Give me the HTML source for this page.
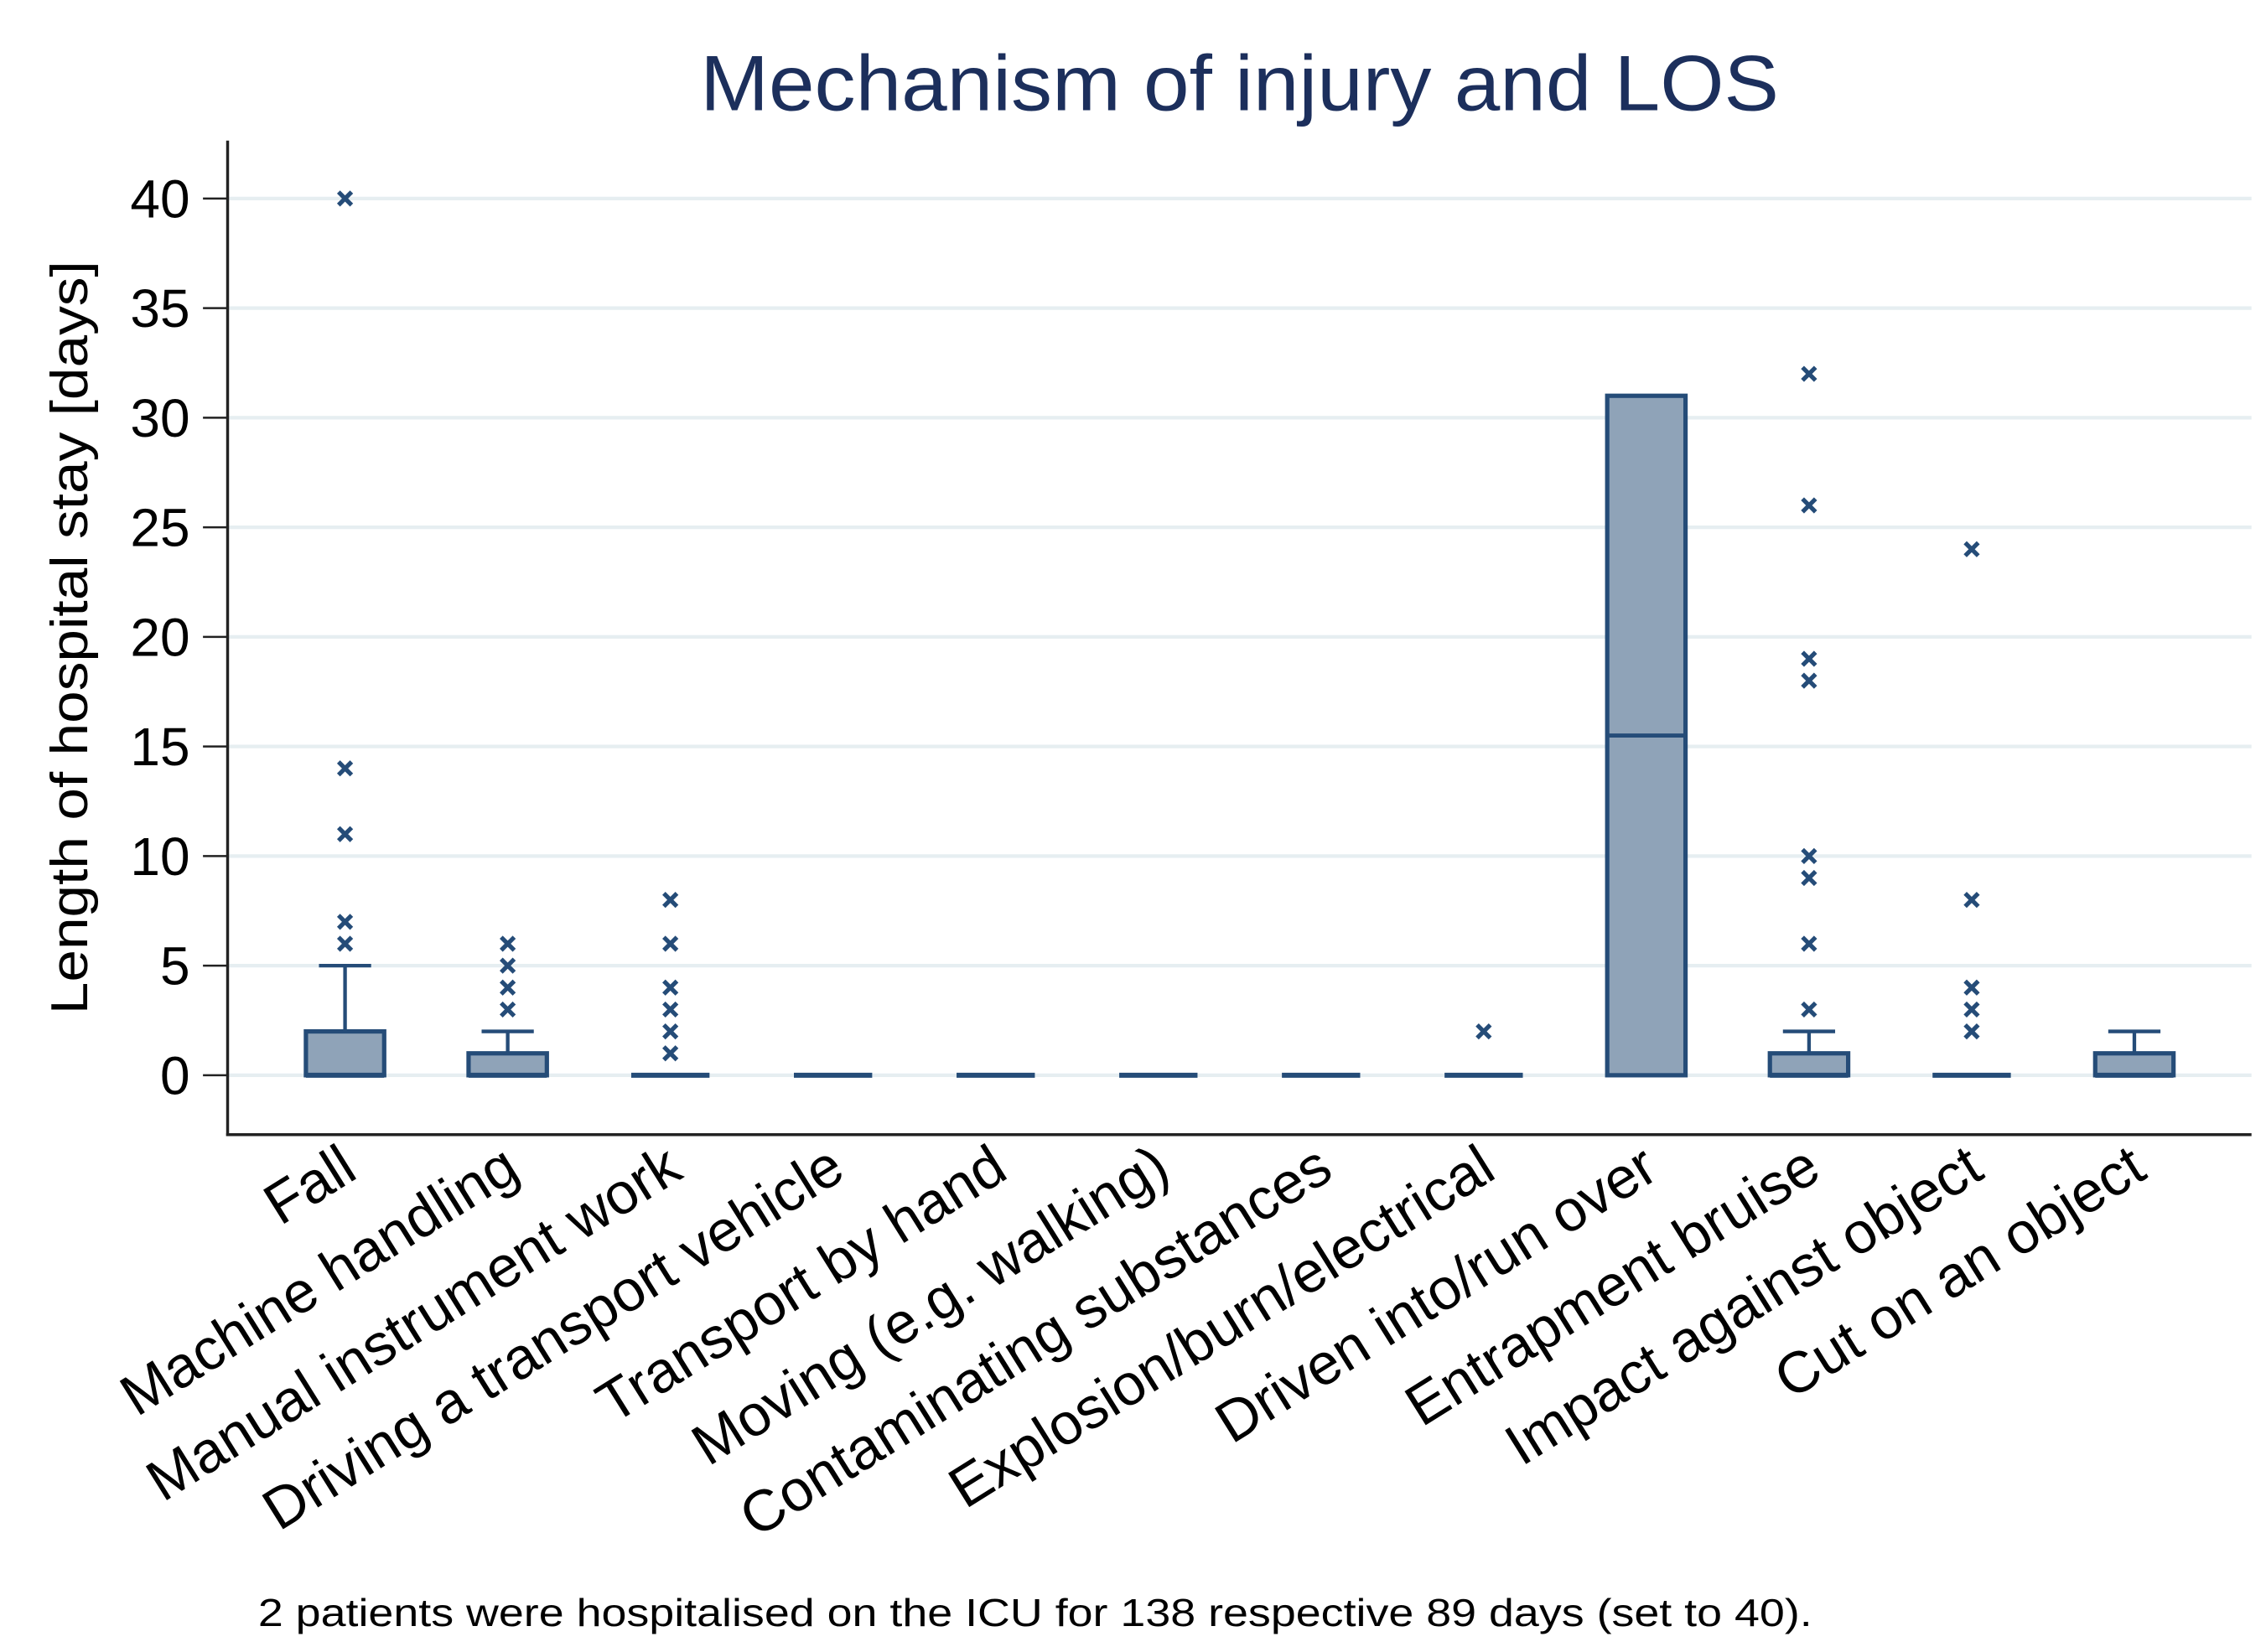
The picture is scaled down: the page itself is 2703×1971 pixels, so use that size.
<!DOCTYPE html>
<html><head><meta charset="utf-8"><style>
html,body{margin:0;padding:0;background:#fff}
svg{display:block}
text{font-family:"Liberation Sans",Arial,sans-serif}
</style></head><body>
<svg id="chart" width="2703" height="1971" viewBox="0 0 1563 1140" preserveAspectRatio="none">
<text x="855" y="76" text-anchor="middle" font-size="54" textLength="744" lengthAdjust="spacingAndGlyphs" fill="#1c2f5c">Mechanism of injury and LOS</text>
<g id="grid"></g>
<g id="yaxis"></g>
<g id="boxes"></g>
<g id="xlabels"></g>
<text transform="translate(60,440) rotate(-90)" text-anchor="middle" font-size="36" textLength="520" lengthAdjust="spacingAndGlyphs" fill="#000">Length of hospital stay [days]</text>
<text x="178" y="1122" font-size="27" textLength="1072" lengthAdjust="spacingAndGlyphs" fill="#000">2 patients were hospitalised on the ICU for 138 respective 89 days (set to 40).</text>
</svg>
<script>
const categories=["Fall","Machine handling","Manual instrument work","Driving a transport vehicle","Transport by hand","Moving (e.g. walking)","Contaminating substances","Explosion/burn/electrical","Driven into/run over","Entrapment bruise","Impact against object","Cut on an object"];
const q1=[0,0,0,0,0,0,0,0,0,0,0,0];
const medians=[0,0,0,0,0,0,0,0,15.5,0,0,0];
const q3=[2,1,0,0,0,0,0,0,31,1,0,1];
const whiskerHigh=[5,2,0,0,0,0,0,0,31,2,0,2];
const outliers=[[6,7,11,14,40],[3,4,5,6],[1,2,3,4,6,8],[],[],[],[],[2],[],[3,6,9,10,18,19,26,32],[2,3,4,8,24],[]];
const yTicks=[0,5,10,15,20,25,30,35,40];

const NS="http://www.w3.org/2000/svg";
const X0=157,X1=1553,Ytop=97,Ybot=783;
const y=v=>742-v*(742-137)/40;
const x=i=>238+i*112.2;
const BW=54,C="#254c78",F="#8fa3b8";
function mk(tag,attrs,parent){const e=document.createElementNS(NS,tag);for(const k in attrs)e.setAttribute(k,attrs[k]);parent.appendChild(e);return e;}
const grid=document.getElementById('grid'),yax=document.getElementById('yaxis'),boxes=document.getElementById('boxes'),xl=document.getElementById('xlabels');
yTicks.forEach(t=>{
  const g=mk('line',{x1:X0,x2:X1,y1:y(t),y2:y(t),stroke:"#e6eef1","stroke-width":2.5},grid);
  
  
  const tk=mk('line',{x1:140,x2:X0,y1:y(t),y2:y(t),stroke:"#222","stroke-width":1.5},yax);
  
  
  const tx=mk('text',{x:131,y:y(t)+13,"text-anchor":"end","font-size":37,fill:"#000"},yax);
  tx.textContent=t;
  
  
});
const ya=mk('line',{x1:X0,x2:X0,y1:Ytop,y2:Ybot+1,stroke:"#222","stroke-width":2},yax);


const xa=mk('line',{x1:X0-1,x2:X1,y1:Ybot,y2:Ybot,stroke:"#222","stroke-width":2},yax);


categories.forEach((c,i)=>{
  const cx=x(i);
  const g=mk('g',{},boxes);
  
  
  if(whiskerHigh[i]>q3[i]){
    mk('line',{x1:cx,x2:cx,y1:y(q3[i]),y2:y(whiskerHigh[i]),stroke:C,"stroke-width":2.5},g);
    mk('line',{x1:cx-18,x2:cx+18,y1:y(whiskerHigh[i]),y2:y(whiskerHigh[i]),stroke:C,"stroke-width":2.5},g);
  }
  if(q3[i]>q1[i]){
    mk('rect',{x:cx-BW/2,y:y(q3[i]),width:BW,height:y(q1[i])-y(q3[i]),fill:F,stroke:C,"stroke-width":3},g);
  }
  mk('line',{x1:cx-BW/2,x2:cx+BW/2,y1:y(medians[i]),y2:y(medians[i]),stroke:C,"stroke-width":medians[i]===q1[i]?3.5:2.8},g);
  outliers[i].forEach(o=>{
    const oy=y(o),s=4.5;
    const p=mk('path',{d:`M${cx-s} ${oy-s}L${cx+s} ${oy+s}M${cx-s} ${oy+s}L${cx+s} ${oy-s}`,stroke:C,"stroke-width":3,fill:"none"},g);
    
    
  });
  const t=mk('text',{transform:`translate(${cx+10},812) rotate(-32)`,"text-anchor":"end","font-size":40,fill:"#000"},xl);
  t.textContent=c;
  
  
});
</script>
</body></html>
